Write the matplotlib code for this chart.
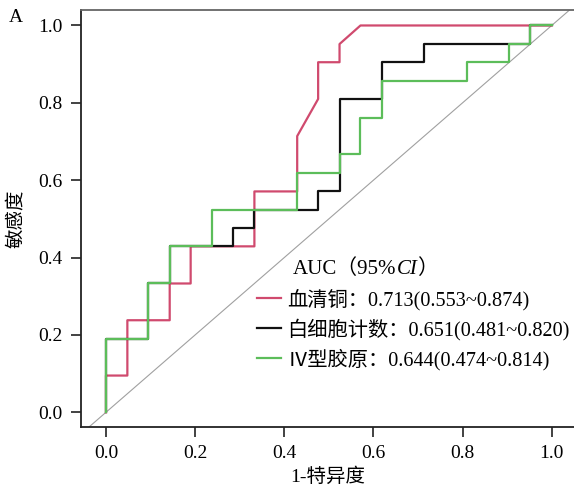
import matplotlib
matplotlib.use("Agg")
import matplotlib.pyplot as plt
from matplotlib.lines import Line2D

plt.rcParams['font.family'] = ['Liberation Serif', 'Noto Sans CJK SC', 'DejaVu Sans']
plt.rcParams['font.size'] = 14

# ROC 数据
red_fpr = [0, 0, 0.048, 0.048, 0.143, 0.143, 0.190, 0.190, 0.333, 0.333, 0.429, 0.429,
           0.476, 0.476, 0.524, 0.524, 0.571, 1.0]
red_tpr = [0, 0.095, 0.095, 0.238, 0.238, 0.333, 0.333, 0.429, 0.429, 0.571, 0.571, 0.714,
           0.810, 0.905, 0.905, 0.952, 1.0, 1.0]

black_fpr = [0, 0, 0.095, 0.095, 0.143, 0.143, 0.286, 0.286, 0.333, 0.333, 0.476, 0.476,
             0.524, 0.524, 0.619, 0.619, 0.714, 0.714, 0.952, 0.952, 1.0]
black_tpr = [0, 0.190, 0.190, 0.333, 0.333, 0.429, 0.429, 0.476, 0.476, 0.524, 0.524, 0.571,
             0.571, 0.810, 0.810, 0.905, 0.905, 0.952, 0.952, 1.0, 1.0]

green_fpr = [0, 0, 0.095, 0.095, 0.143, 0.143, 0.238, 0.238, 0.429, 0.429, 0.524, 0.524,
             0.571, 0.571, 0.619, 0.619, 0.810, 0.810, 0.905, 0.905, 0.952, 0.952, 1.0]
green_tpr = [0, 0.190, 0.190, 0.333, 0.333, 0.429, 0.429, 0.524, 0.524, 0.619, 0.619, 0.667,
             0.667, 0.762, 0.762, 0.857, 0.857, 0.905, 0.905, 0.952, 0.952, 1.0, 1.0]

labels = ['血清铜：0.713(0.553~0.874)',
          '白细胞计数：0.651(0.481~0.820)',
          'Ⅳ型胶原：0.644(0.474~0.814)']
colors = ['#D04A6E', '#111111', '#5CBD5A']
ticks = [0.0, 0.2, 0.4, 0.6, 0.8, 1.0]

fig = plt.figure(figsize=(5.74, 4.86), dpi=100)
ax = fig.add_axes([81 / 574, 1 - 427 / 486, 493 / 574, 417 / 486])

ax.plot([-0.2, 1.2], [-0.2, 1.2], color='#a0a0a0', lw=0.8)
ax.plot(red_fpr, red_tpr, color=colors[0], lw=1.6)
ax.plot(black_fpr, black_tpr, color=colors[1], lw=1.6)
ax.plot(green_fpr, green_tpr, color=colors[2], lw=1.6)

ax.set_xlim(-0.056, 1.05)
ax.set_ylim(-0.038, 1.04)
ax.set_xticks(ticks)
ax.set_yticks(ticks)
ax.set_xticklabels(['%.1f' % t for t in ticks])
ax.set_yticklabels(['%.1f' % t for t in ticks])
ax.tick_params(direction='out', length=7, width=1.2, color='#222222', pad=6)

ax.spines['right'].set_visible(False)
ax.spines['top'].set_color('#666666')
ax.spines['left'].set_color('#222222')
ax.spines['bottom'].set_color('#222222')
for s in ['top', 'left', 'bottom']:
    ax.spines[s].set_linewidth(1.3)

ax.set_xlabel('1-特异度', labelpad=4)
ax.set_ylabel('敏感度', labelpad=10)

handles = [Line2D([], [], color=c, lw=1.6) for c in colors]
ax.legend(handles, labels, loc='upper left', bbox_to_anchor=(0.357, 0.331),
          frameon=False, handlelength=1.2, handletextpad=0.3, labelspacing=0.4,
          borderaxespad=0, borderpad=0, fontsize=14.6)

# 图例标题：AUC（95%CI），CI 斜体
t1 = ax.text(0.430, 0.379, 'AUC（95%', transform=ax.transAxes, va='center', ha='left',
             fontsize=15)
t2 = ax.annotate('CI', xy=(1, 0), xycoords=t1, va='bottom', ha='left', style='italic',
                 fontsize=15)
ax.annotate('）', xy=(1, 0), xycoords=t2, va='bottom', ha='left', fontsize=15)

fig.text(16 / 574, 1 - 17 / 486, 'A', ha='center', va='center')

fig.savefig('out.png', dpi=100)
